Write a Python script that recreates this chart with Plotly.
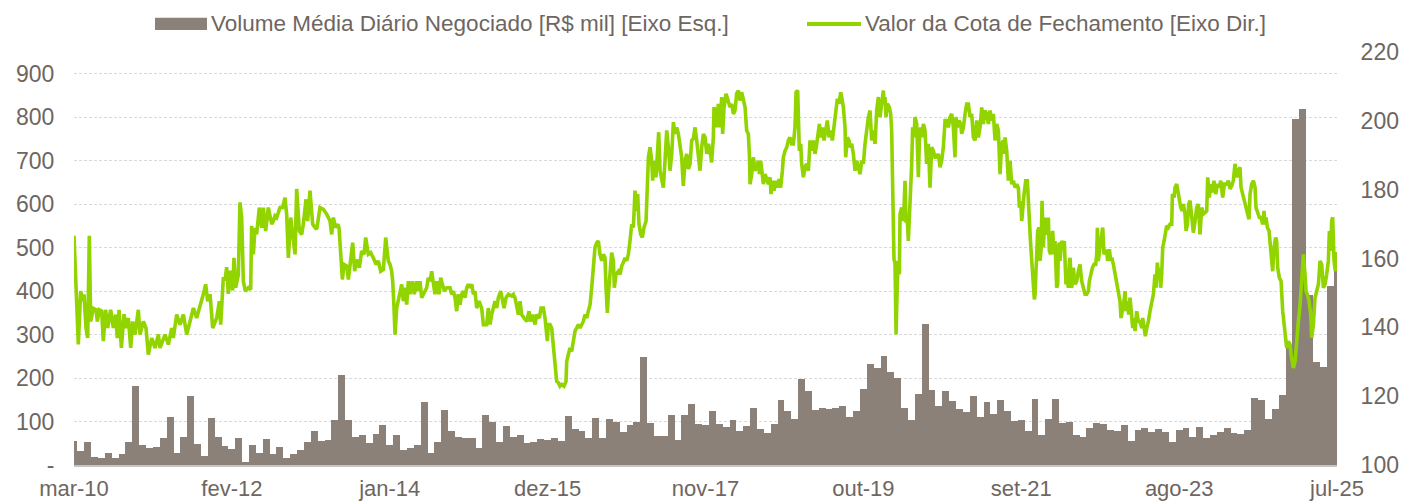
import plotly.graph_objects as go

# ---------------- data ----------------
# Monthly average daily traded volume [R$ mil], Mar-2010 .. Jul-2025 (185 months)
volume = [
    55, 32, 52, 19, 15, 27, 15, 25, 52, 181, 46, 40, 42, 62, 111, 27, 64, 158, 48, 21, 108, 64, 44, 36,
    62, 8, 46, 27, 59, 25, 42, 15, 25, 34, 54, 78, 55, 58, 104, 206, 104, 65, 68, 50, 71, 92, 45,
    69, 35, 38, 46, 144, 27, 52, 127, 78, 65, 63, 63, 38, 115, 98, 52, 90, 64, 68, 50, 52, 60, 57,
    63, 55, 112, 83, 79, 61, 108, 63, 106, 98, 76, 92, 100, 248, 96, 67, 66, 115, 58, 115, 141, 95, 92, 125,
    95, 88, 104, 78, 90, 132, 82, 73, 95, 149, 125, 106, 198, 171, 127, 132, 128, 132, 135, 111, 125, 175, 233,
    222, 250, 214, 200, 132, 104, 163, 325, 172, 135, 171, 148, 129, 122, 158, 110, 145, 118, 150, 125, 102, 104, 78, 152,
    68, 106, 152, 96, 98, 69, 64, 85, 96, 95, 81, 79, 92, 55, 81, 86, 75, 82, 77, 52, 81, 86, 65,
    88, 62, 69, 77, 86, 73, 71, 81, 155, 150, 106, 129, 160, 275, 796, 818, 390, 236, 225, 412, 465,
]

# Closing quota value: time in months since Mar-2010 and value
cota_mes = [
    0.00, 0.15, 0.24, 0.63, 0.97, 1.26, 1.46, 1.75, 1.99, 2.23, 2.43, 2.82, 3.21, 3.40, 3.69, 4.03, 4.27, 4.61, 4.91, 5.34,
    5.73, 6.07, 6.31, 6.56, 6.90, 7.29, 7.53, 7.92, 8.26, 8.55, 8.89, 9.37, 9.62, 10.10, 10.49, 10.83, 11.32, 11.80, 12.29, 12.53,
    13.26, 13.75, 14.23, 14.47, 14.96, 15.45, 15.93, 16.42, 16.90, 17.39, 17.87, 18.60, 18.84, 19.18, 19.48, 19.82, 20.21, 20.79, 21.18, 21.37,
    21.51, 21.76, 22.00, 22.24, 22.48, 22.73, 23.12, 23.31, 23.55, 23.94, 24.18, 24.43, 24.67, 24.96, 25.40, 25.74, 25.88, 26.13, 26.37, 26.61,
    27.00, 27.34, 27.58, 27.92, 28.31, 28.80, 29.04, 29.28, 29.53, 30.01, 30.40, 30.74, 30.98, 31.23, 31.57, 31.86, 32.20, 32.44, 32.83, 33.17,
    33.41, 33.80, 34.04, 34.38, 34.77, 35.11, 35.36, 35.84, 36.33, 36.81, 37.30, 37.54, 37.78, 38.12, 38.41, 38.61, 38.85, 39.10, 39.34, 39.73,
    39.97, 40.36, 40.60, 40.89, 41.18, 41.57, 41.91, 42.25, 42.49, 42.88, 43.22, 43.61, 43.99, 44.34, 44.68, 45.07, 45.41,
    45.79, 46.04, 46.28, 46.43, 46.62, 46.77, 47.01, 47.25, 47.49, 47.74, 47.98, 48.22, 48.47, 48.71, 48.95, 49.29, 49.58, 49.92, 50.17, 50.41,
    50.65, 51.04, 51.38, 51.62, 51.87, 52.11, 52.35, 52.59, 52.84, 53.18, 53.42, 53.66, 53.95, 54.29, 54.78, 55.02, 55.27, 55.51, 55.75, 55.99,
    56.24, 56.48, 56.72, 56.97, 57.21, 57.45, 57.69, 57.94, 58.18, 58.42, 58.67, 59.01, 59.39, 59.64, 60.12, 60.36, 60.61, 60.85, 61.09, 61.34,
    61.58, 61.82, 62.16, 62.45, 62.65, 62.94, 63.28, 63.77, 64.01, 64.25, 64.49, 64.74, 64.98, 65.22, 65.56, 65.95, 66.29, 66.53, 66.82, 67.17,
    67.41, 67.80, 68.04, 68.38, 68.62,
    68.96, 69.10, 69.35, 69.59, 69.83, 70.08, 70.32, 70.56, 70.80, 71.05, 71.39, 71.68, 71.78, 72.02, 72.26, 72.50, 72.75, 72.99, 73.23, 73.48,
    73.72, 73.96, 74.20, 74.45, 74.69, 74.93, 75.18, 75.42, 75.66, 75.90, 76.15, 76.39, 76.63, 76.88, 77.12, 77.36, 77.51, 77.70, 77.85, 78.09,
    78.33, 78.58, 78.72, 78.96, 79.30, 79.55, 79.79, 80.03, 80.28, 80.52, 80.76, 81.00, 81.25, 81.49, 81.73, 81.98, 82.12, 82.31, 82.56, 82.80,
    83.04, 83.34, 83.53, 83.68, 83.92, 84.16, 84.31, 84.50, 84.79, 84.99, 85.18, 85.38, 85.62, 85.86, 86.10, 86.35, 86.59, 86.83, 87.08, 87.32,
    87.56, 87.80, 88.05, 88.29, 88.53, 88.77, 89.02, 89.26, 89.50, 89.75, 89.99, 90.23, 90.48, 90.72, 90.96, 91.20, 91.45, 91.69, 91.93, 92.18, 92.42,
    92.66, 92.90, 93.14, 93.24, 93.48, 93.63, 93.87, 94.11, 94.36, 94.50, 94.70, 94.99, 95.33, 95.57, 95.81, 96.06, 96.30, 96.54, 96.79, 97.03,
    97.27, 97.51, 97.76, 98.00, 98.24, 98.39, 98.49, 98.73, 98.97, 99.21, 99.46, 99.70, 99.85, 100.04, 100.23, 100.43, 100.67, 100.91, 101.16, 101.40,
    101.55, 101.79, 101.98, 102.23, 102.47, 102.71, 102.95, 103.20, 103.34, 103.59, 103.83, 104.07, 104.31, 104.56, 104.80, 105.04, 105.19, 105.43, 105.67, 105.87,
    106.01, 106.26, 106.50, 106.74, 106.99, 107.23, 107.47, 107.71, 107.96, 108.20, 108.44, 108.59, 108.78, 109.03, 109.27, 109.51, 109.75, 110.00, 110.24, 110.48,
    110.73, 110.97, 111.21, 111.45, 111.70, 111.84, 112.08, 112.33, 112.42, 112.67, 112.91, 113.05, 113.30, 113.54, 113.79, 114.03, 114.27, 114.51, 114.76, 115.00,
    115.24, 115.49, 115.73,
    115.97, 116.21, 116.45, 116.70, 116.94, 117.18, 117.42, 117.67, 117.91, 118.01, 118.15, 118.30, 118.49, 118.78, 118.98, 119.12, 119.22, 119.37, 119.46, 119.61,
    119.76, 119.95, 120.10, 120.24, 120.34, 120.58, 120.73, 120.92, 121.07, 121.21, 121.41, 121.55, 121.80, 122.04, 122.18, 122.38, 122.52, 122.77, 123.01, 123.16,
    123.35, 123.50, 123.74, 123.98, 124.22, 124.47, 124.71, 124.81, 124.95, 125.20, 125.44, 125.68, 125.92, 126.17, 126.41, 126.65, 126.90, 127.14, 127.38, 127.62,
    127.87, 128.11, 128.35, 128.50, 128.69, 128.94, 129.18, 129.32, 129.57, 129.81, 130.05, 130.30, 130.54, 130.78, 131.02, 131.27, 131.51, 131.75, 132.00, 132.24,
    132.48, 132.72, 132.97, 133.21, 133.45, 133.70, 133.94, 134.18, 134.42, 134.67, 134.91, 135.15, 135.39, 135.54, 135.64, 135.88, 136.12, 136.37, 136.61, 136.85,
    137.10, 137.34, 137.58, 137.73, 137.92, 138.07, 138.21, 138.41, 138.65, 138.89,
    139.37, 139.52, 139.76, 139.91, 140.01, 140.15, 140.25, 140.39, 140.59, 140.73, 140.88, 141.03, 141.22, 141.37, 141.61, 141.80, 141.95, 142.09, 142.29, 142.43,
    142.58, 142.77, 142.92, 143.16, 143.31, 143.41, 143.55, 143.65, 143.89, 144.13, 144.28, 144.38, 144.52, 144.62, 144.86, 145.01, 145.11, 145.35, 145.59, 145.83,
    146.08, 146.32, 146.56, 146.81, 147.05, 147.29, 147.53, 147.78, 147.92, 148.12, 148.36, 148.60, 148.85, 148.99, 149.09, 149.23, 149.48, 149.72, 149.87, 150.06,
    150.21, 150.45, 150.59, 150.84, 151.03, 151.18, 151.42, 151.66, 151.91, 152.15, 152.39, 152.54, 152.73, 152.97, 153.12, 153.27, 153.46, 153.65, 153.85, 154.00,
    154.24, 154.43, 154.58, 154.82, 155.06, 155.31, 155.55, 155.69, 155.89, 156.08, 156.28, 156.52, 156.76, 157.01, 157.25, 157.49, 157.64, 157.83, 157.98, 158.12,
    158.32, 158.46, 158.61, 158.81, 158.95, 159.19, 159.43, 159.68, 159.92, 160.02, 160.26, 160.40, 160.65, 160.79, 161.04, 161.23, 161.47, 161.62, 161.86, 162.01,
    162.20, 162.40, 162.59,
    162.83, 163.07, 163.32, 163.56, 163.80, 164.04, 164.29, 164.53, 164.77, 165.02, 165.16, 165.40, 165.60, 165.84, 166.08, 166.33, 166.57, 166.86, 167.06, 167.35,
    167.59, 167.93, 168.17, 168.42, 168.66, 168.90, 169.14, 169.39, 169.63, 169.87, 170.02, 170.26, 170.50, 170.75, 170.94, 171.18, 171.33, 171.57, 171.82, 172.06,
    172.20, 172.45, 172.69, 172.93, 173.18, 173.37, 173.52, 173.66, 173.86, 174.10, 174.24, 174.49, 174.63, 174.83, 175.07, 175.21, 175.36, 175.60, 175.85, 176.09,
    176.28, 176.58, 176.67, 176.92, 177.16, 177.30, 177.50, 177.64, 177.89, 178.13, 178.37, 178.62, 178.76, 178.96, 179.10, 179.34, 179.49, 179.68, 179.92, 180.17,
    180.31, 180.56, 180.80, 181.04, 181.29, 181.53, 181.77, 182.02, 182.26, 182.50, 182.74, 182.89, 183.08, 183.23, 183.37, 183.57, 183.76, 183.96,
]
cota_valor = [
    166.6, 160.2, 154.4, 135.0, 150.5, 147.6, 149.6, 139.8, 136.9, 166.6, 141.7, 145.5, 145.1, 141.7, 145.1, 144.7, 136.0, 145.1, 139.8, 145.1,
    139.8, 143.7, 136.9, 145.1, 134.0, 143.8, 139.8, 142.7, 134.0, 141.7, 137.9, 145.1, 137.9, 141.7, 139.8, 132.1, 136.9, 134.0, 137.9, 134.0,
    137.9, 135.0, 139.8, 136.9, 143.7, 140.8, 143.7, 137.9, 141.7, 145.6, 142.7, 147.6, 149.6, 152.5, 147.6, 149.6, 139.8, 142.7, 147.6, 140.8,
    147.8, 154.6, 153.6, 157.5, 149.7, 156.5, 150.7, 160.2, 151.5, 155.3, 176.3, 171.9, 153.4, 150.5, 151.5, 151.0, 169.5, 161.2, 168.9, 167.0,
    174.8, 168.9, 174.8, 168.0, 174.8, 170.0, 170.9, 172.4, 171.9, 174.8, 174.8, 177.7, 172.9, 160.2, 171.9, 167.0, 161.2, 180.2, 168.0, 167.0,
    170.0, 177.2, 170.9, 179.7, 170.0, 169.0, 168.5, 174.8, 174.3, 172.9, 170.9, 167.0, 171.9, 169.0, 170.0, 169.0, 160.2, 153.9, 158.3, 157.8,
    153.9, 160.2, 164.6, 156.3, 159.7, 157.3, 162.2, 161.2, 166.1, 161.2, 161.7, 160.2, 158.3, 159.3, 156.3, 156.8, 166.1,
    159.3, 158.3, 156.3, 153.4, 145.6, 137.9, 145.6, 147.6, 150.5, 152.5, 147.6, 151.5, 146.6, 153.4, 149.6, 153.4, 149.6, 153.4, 150.5, 153.4,
    148.6, 150.5, 151.5, 154.4, 153.4, 156.3, 152.5, 149.6, 153.4, 149.6, 154.4, 152.5, 150.5, 151.5, 151.5, 149.6, 150.5, 148.6, 144.7, 149.6,
    146.6, 149.6, 150.5, 148.6, 151.5, 152.5, 151.5, 152.5, 149.6, 150.5, 145.6, 147.6, 145.6, 140.8, 140.8, 145.6, 140.8, 143.7, 145.6, 147.6,
    145.6, 148.6, 150.5, 147.6, 145.6, 148.6, 149.6, 149.1, 149.6, 148.6, 145.6, 143.7, 147.6, 143.7, 142.7, 141.7, 144.7, 141.7, 143.7, 140.8,
    143.7, 142.7, 145.6, 145.6, 142.7,
    136.0, 140.8, 140.8, 139.8, 134.0, 131.1, 124.3, 123.9, 122.9, 123.4, 122.9, 124.3, 130.1, 132.1, 134.0, 133.0, 136.9, 138.9, 139.8, 140.8,
    139.8, 140.8, 141.7, 143.7, 142.7, 144.7, 146.6, 151.5, 159.3, 163.2, 164.6, 165.1, 161.2, 159.3, 161.2, 160.2, 151.5, 144.2, 149.6, 155.4,
    161.7, 159.3, 151.5, 155.4, 156.3, 155.4, 157.8, 158.8, 160.2, 159.3, 161.2, 165.1, 169.9, 169.0, 179.7, 173.8, 178.7, 170.0, 167.0, 166.1,
    169.0, 170.9, 178.7, 189.4, 192.3, 188.4, 182.6, 188.4, 183.6, 190.4, 196.7, 185.5, 182.6, 180.6, 188.4, 197.2, 192.3, 185.5, 190.4, 199.6,
    196.2, 198.1, 196.2, 192.3, 189.4, 181.1, 188.4, 190.4, 186.0, 187.5, 194.3, 194.8, 198.1, 194.3, 189.4, 185.5, 192.3, 196.2, 195.2, 190.4, 193.3,
    191.3, 187.9, 195.2, 204.0, 202.0, 198.1, 204.9, 198.1, 206.9, 196.2, 203.9, 207.9, 205.4, 204.0, 204.9, 202.0, 203.0, 207.9, 208.8, 205.9,
    208.3, 205.9, 204.0, 197.2, 196.2, 190.4, 181.6, 184.5, 189.4, 185.5, 186.5, 188.4, 184.5, 188.4, 184.5, 181.6, 184.5, 183.1, 181.6, 183.6,
    178.7, 182.6, 179.7, 182.6, 180.6, 183.1, 180.6, 185.5, 189.4, 191.3, 192.3, 194.3, 195.2, 193.3, 193.3, 198.1, 208.3, 208.8, 191.3, 193.3,
    187.5, 183.6, 186.5, 187.5, 185.5, 194.3, 191.3, 194.3, 190.4, 193.3, 197.2, 199.1, 195.2, 198.1, 194.3, 197.2, 200.1, 195.2, 197.2, 194.3,
    198.1, 202.0, 206.4, 205.0, 208.3, 206.9, 204.0, 198.1, 189.4, 195.2, 194.3, 192.3, 193.3, 190.4, 185.5, 188.4, 186.5, 184.5, 188.4, 187.5,
    193.3, 198.1, 201.1,
    203.0, 194.3, 197.2, 193.3, 203.0, 206.9, 201.1, 205.0, 208.8, 205.9, 206.9, 201.1, 205.0, 204.0, 202.0, 197.2, 186.5, 176.7, 159.7, 158.8,
    137.9, 153.4, 159.3, 155.4, 172.9, 174.8, 170.9, 174.8, 182.6, 170.9, 170.9, 165.1, 175.8, 187.5, 198.1, 195.2, 201.1, 199.1, 183.6, 194.3,
    198.1, 195.2, 199.1, 197.2, 187.5, 193.3, 180.6, 190.4, 192.3, 191.3, 189.4, 189.4, 190.4, 186.5, 188.4, 192.3, 200.1, 200.1, 198.1, 201.1,
    202.0, 198.1, 189.4, 201.1, 198.1, 200.1, 199.1, 196.2, 198.1, 202.0, 204.9, 204.9, 201.1, 202.0, 195.2, 194.3, 200.1, 195.2, 198.1, 203.9,
    199.1, 203.0, 202.0, 199.1, 203.0, 200.1, 202.0, 194.3, 199.1, 197.2, 184.5, 193.3, 194.3, 190.4, 195.2, 191.3, 182.6, 188.4, 181.6, 182.6,
    180.6, 181.6, 180.6, 174.8, 176.7, 170.9, 174.8, 178.7, 182.6, 182.6,
    164.1, 159.3, 155.4, 148.1, 149.6, 159.3, 163.2, 168.0, 169.0, 159.3, 162.2, 176.8, 163.2, 169.0, 171.9, 166.9, 171.9, 162.2, 161.2, 167.0,
    168.0, 161.2, 165.1, 151.5, 152.5, 163.2, 164.6, 159.3, 165.1, 164.1, 165.1, 159.3, 152.5, 155.4, 151.5, 159.3, 160.2, 151.5, 157.3, 152.5,
    153.4, 156.3, 158.3, 153.4, 151.5, 149.6, 149.6, 150.5, 153.4, 155.4, 157.3, 158.3, 158.3, 161.2, 168.9, 159.3, 164.1, 167.0, 169.0, 161.2,
    162.2, 162.2, 159.3, 162.7, 159.3, 160.2, 158.3, 155.4, 153.4, 149.6, 147.6, 142.7, 144.7, 147.6, 150.5, 144.7, 147.6, 143.7, 148.6, 143.7,
    139.8, 142.7, 138.9, 144.7, 141.7, 141.7, 139.8, 142.7, 139.8, 137.4, 139.8, 141.7, 144.7, 147.6, 149.6, 155.4, 151.5, 158.8, 155.4, 157.3,
    151.5, 155.4, 163.2, 165.1, 167.0, 169.5, 169.0, 170.0, 170.0, 178.7, 177.7, 180.6, 181.6, 179.7, 176.8, 174.8, 173.8, 175.8, 172.9, 168.0,
    169.9, 175.8, 176.8,
    170.9, 167.5, 170.9, 174.8, 175.8, 167.0, 174.8, 172.9, 173.3, 173.8, 183.6, 177.7, 181.6, 179.2, 182.6, 178.7, 181.6, 180.6, 182.6, 177.7,
    181.6, 181.6, 182.6, 180.2, 181.1, 182.6, 187.5, 183.6, 185.5, 186.5, 180.6, 178.7, 176.7, 174.8, 172.9, 171.4, 178.7, 181.6, 182.6, 180.6,
    174.8, 172.9, 171.9, 171.9, 169.9, 173.8, 169.9, 171.9, 169.0, 168.0, 164.1, 159.3, 156.3, 163.2, 166.1, 165.1, 157.3, 154.4, 153.4, 144.7,
    140.8, 136.9, 134.0, 135.9, 135.0, 132.1, 130.1, 128.2, 130.1, 136.9, 141.7, 146.6, 151.5, 154.4, 161.2, 155.4, 150.5, 149.6, 147.6, 143.7,
    137.0, 140.8, 148.6, 150.5, 152.5, 159.3, 158.3, 151.5, 152.5, 155.4, 159.3, 168.0, 162.2, 171.0, 172.0, 159.3, 156.3, 161.9,
]

tick_meses = [0, 23, 46, 69, 92, 115, 138, 161, 184]
tick_rotulos = ["mar-10", "fev-12", "jan-14", "dez-15", "nov-17", "out-19", "set-21", "ago-23", "jul-25"]

nome_barra = "Volume Média Diário Negociado [R$ mil] [Eixo Esq.]"
nome_linha = "Valor da Cota de Fechamento [Eixo Dir.]"

# ---------------- style ----------------
COR_BARRA = "#8b8179"
COR_LINHA = "#92d400"
COR_TEXTO = "#6e6661"
FONTE = "Liberation Sans, Arial, sans-serif"

W, H = 1402, 504
ML, MR, MT, MB = 74, 65, 52, 39
PW, PH = W - ML - MR, H - MT - MB


def px_x(px):
    return (px - ML) / PW


def px_y(py):
    return (H - MB - py) / PH


fig = go.Figure()
fig.add_trace(go.Bar(
    x=list(range(len(volume))), y=volume, name=nome_barra,
    marker=dict(color=COR_BARRA, line=dict(width=0)), width=1.0,
    showlegend=False, hoverinfo="y",
))
fig.add_trace(go.Scatter(
    x=cota_mes, y=cota_valor, name=nome_linha, yaxis="y2", mode="lines",
    line=dict(color=COR_LINHA, width=3.6), showlegend=False,
))

fig.update_layout(
    width=W, height=H, margin=dict(l=ML, r=MR, t=MT, b=MB, autoexpand=False),
    paper_bgcolor="white", plot_bgcolor="white",
    font=dict(family=FONTE, color=COR_TEXTO, size=23),
    bargap=0,
    xaxis=dict(
        range=[0, 184], tickvals=tick_meses, ticktext=tick_rotulos, automargin=False,
        showgrid=False, zeroline=False, showline=True, linecolor="#c4c4c4", linewidth=1.5,
        ticks="outside", ticklen=3, tickcolor="rgba(0,0,0,0)",
        tickfont=dict(size=22, color=COR_TEXTO),
    ),
    yaxis=dict(
        range=[0, 950], tickvals=[0, 100, 200, 300, 400, 500, 600, 700, 800, 900],
        ticktext=["-", "100", "200", "300", "400", "500", "600", "700", "800", "900"],
        automargin=False,
        showgrid=True, gridcolor="#d9d9d9", griddash="3px,2px", gridwidth=1,
        zeroline=False, showline=False,
        ticks="outside", ticklen=14, tickcolor="rgba(0,0,0,0)",
        tickfont=dict(size=23, color=COR_TEXTO),
    ),
    yaxis2=dict(
        range=[100, 220], dtick=20, overlaying="y", side="right", automargin=False,
        showgrid=False, zeroline=False, showline=False,
        ticks="outside", ticklen=18, tickcolor="rgba(0,0,0,0)",
        tickfont=dict(size=23, color=COR_TEXTO),
    ),
    shapes=[
        dict(type="rect", xref="paper", yref="paper",
             x0=px_x(155), x1=px_x(207), y0=px_y(30), y1=px_y(17.7),
             fillcolor=COR_BARRA, line=dict(width=0)),
        dict(type="line", xref="paper", yref="paper",
             x0=px_x(807), x1=px_x(861), y0=px_y(24), y1=px_y(24),
             line=dict(color=COR_LINHA, width=4)),
    ],
    annotations=[
        dict(text=nome_barra, xref="paper", yref="paper", x=px_x(209), y=px_y(24),
             xanchor="left", yanchor="middle", showarrow=False,
             font=dict(size=22.5, color=COR_TEXTO)),
        dict(text=nome_linha, xref="paper", yref="paper", x=px_x(863), y=px_y(24),
             xanchor="left", yanchor="middle", showarrow=False,
             font=dict(size=22.5, color=COR_TEXTO)),
    ],
)

fig.write_html(
    "out.html",
    config={"displayModeBar": False},
    post_script="document.body.style.margin='0';document.body.style.overflow='hidden';",
)
